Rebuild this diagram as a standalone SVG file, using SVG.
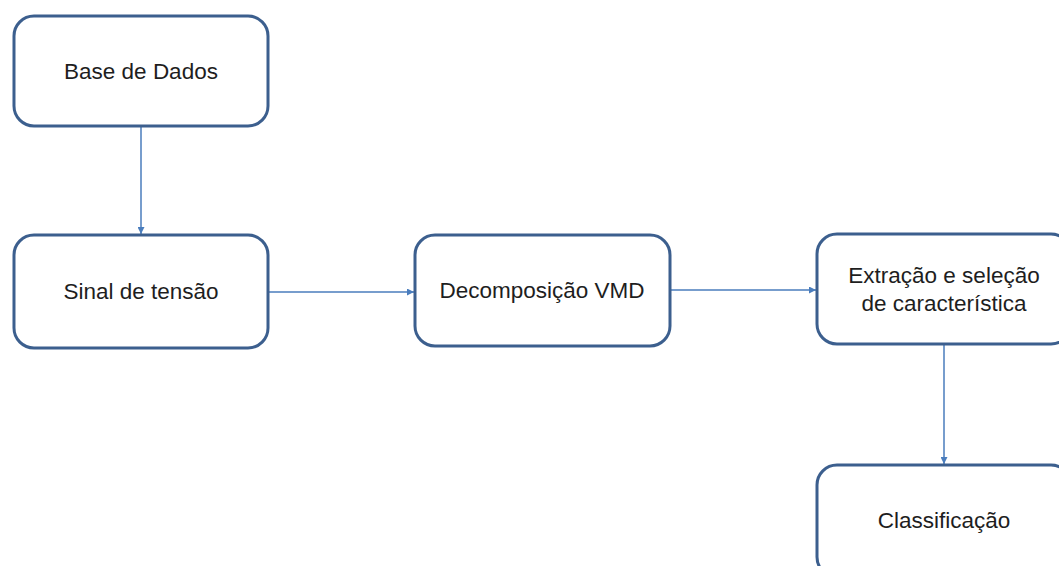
<svg xmlns="http://www.w3.org/2000/svg" width="1059" height="566" viewBox="0 0 1059 566">
<defs>
<style>
.box{fill:#fff;stroke:#3c5f8e;stroke-width:3}
.lbl{font-family:"Liberation Sans",Arial,sans-serif;font-size:22.5px;fill:#1e1e1e;text-anchor:middle}
.con{stroke:#4a7dbd;stroke-width:1.5;fill:none;marker-end:url(#ah)}
</style>
<marker id="ah" viewBox="0 0 10 10" refX="10" refY="5" markerWidth="8" markerHeight="7" markerUnits="userSpaceOnUse" orient="auto">
<path d="M0,0 L10,5 L0,10 z" fill="#4a7dbd"/>
</marker>
</defs>
<rect width="1059" height="566" fill="#fff"/>
<g id="connectors">
<line class="con" x1="141" y1="127" x2="141" y2="234"/>
<line class="con" x1="269" y1="292" x2="414" y2="292"/>
<line class="con" x1="671" y1="290" x2="816" y2="290"/>
<line class="con" x1="944" y1="345" x2="944" y2="464"/>
</g>
<g id="n1"><rect class="box" x="14" y="16" width="254" height="110" rx="20"/><text class="lbl" x="141" y="79">Base de Dados</text></g>
<g id="n2"><rect class="box" x="14" y="235" width="254" height="113" rx="20"/><text class="lbl" x="141" y="299">Sinal de tensão</text></g>
<g id="n3"><rect class="box" x="415" y="235" width="255" height="111" rx="20"/><text class="lbl" x="542" y="298">Decomposição VMD</text></g>
<g id="n4"><rect class="box" x="817" y="234" width="254" height="110" rx="20"/><text class="lbl" x="944" y="283">Extração e seleção</text><text class="lbl" x="944" y="311">de característica</text></g>
<g id="n5"><rect class="box" x="817" y="465" width="254" height="112" rx="20"/><text class="lbl" x="944" y="528">Classificação</text></g>
</svg>
